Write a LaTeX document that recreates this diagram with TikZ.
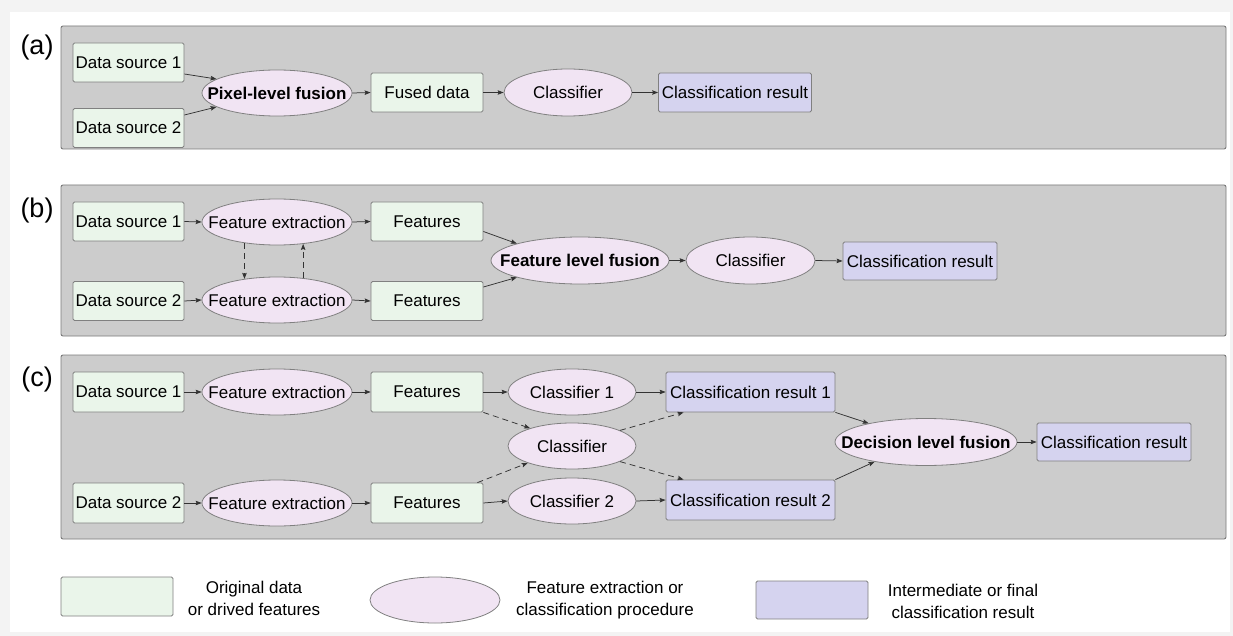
\documentclass[tikz,border=0pt]{standalone}
\usepackage{fontspec}
\setmainfont{Liberation Sans}
\usetikzlibrary{shapes.geometric,arrows.meta}
\definecolor{outerbg}{HTML}{F3F3F3}
\definecolor{panelbg}{HTML}{CCCCCC}
\definecolor{panelln}{HTML}{7A7A7A}
\definecolor{datafill}{HTML}{EAF5EA}
\definecolor{procfill}{HTML}{F1E4F3}
\definecolor{resfill}{HTML}{D5D3EF}
\definecolor{nodeln}{HTML}{808080}
\definecolor{arrln}{HTML}{333333}
\newcommand{\ztext}[1]{\makebox[0pt]{#1}}
\begin{document}
\begin{tikzpicture}[x=1pt,y=-1pt,
  every node/.style={font=\fontsize{17}{20}\selectfont, inner sep=0pt, text=black},
  panel/.style={fill=panelbg, draw=panelln, line width=0.9pt, rounded corners=2pt},
  databox/.style={rectangle, fill=datafill, draw=nodeln, line width=0.8pt, rounded corners=1.5pt, minimum width=111pt, minimum height=39pt},
  resbox/.style={rectangle, fill=resfill, draw=nodeln, line width=0.8pt, rounded corners=1.5pt, minimum width=153pt, minimum height=39pt},
  proc/.style={ellipse, fill=procfill, draw=nodeln, line width=0.8pt, minimum width=150pt, minimum height=46pt},
  arr/.style={draw=arrln, line width=0.75pt, -{Stealth[length=6pt,width=4.5pt,inset=1pt]}},
  darr/.style={arr, dash pattern=on 6pt off 4pt},
  plabel/.style={font=\fontsize{27}{30}\selectfont},
  legtext/.style={align=center, font=\fontsize{17}{22}\selectfont}
]
\useasboundingbox (0,0) rectangle (1233,636);
\fill[outerbg] (0,0) rectangle (1233,636);
\fill[white] (10,12) rectangle (1230,632);

% ---------- panel (a)
\draw[panel] (61,26) rectangle (1226,149);
\node[plabel] (la) at (37,48) {(a)};
\node[databox] (a1) at (128.5,62.5) {Data source 1};
\node[databox] (a2) at (128.5,128) {Data source 2};
\node[proc] (apf) at (277,93) {\ztext{\bfseries Pixel-level fusion}};
\node[databox, minimum width=112pt] (afd) at (427,92.5) {Fused data};
\node[proc, minimum width=128pt, minimum height=47pt] (acl) at (568,92.5) {\ztext{Classifier}};
\node[resbox] (acr) at (735,92.5) {Classification result};
\draw[arr] ([yshift=-11.5pt]a1.east) -- (apf.167);
\draw[arr] ([yshift=13pt]a2.east) -- (apf.193);
\draw[arr] (apf.east) -- (afd.west);
\draw[arr] (afd.east) -- (acl.west);
\draw[arr] (acl.east) -- (acr.west);

% ---------- panel (b)
\draw[panel] (61,185) rectangle (1226,336);
\node[plabel] (lb) at (37,211) {(b)};
\node[databox] (b1) at (128.5,221.5) {Data source 1};
\node[databox] (b2) at (128.5,301) {Data source 2};
\node[proc] (bfe1) at (277,222) {\ztext{Feature extraction}};
\node[proc] (bfe2) at (277,300) {\ztext{Feature extraction}};
\node[databox, minimum width=112pt] (bft1) at (427,221.5) {Features};
\node[databox, minimum width=112pt] (bft2) at (427,301) {Features};
\node[proc, minimum width=178pt, minimum height=47pt] (bfus) at (580,260.5) {\ztext{\bfseries Feature level fusion}};
\node[proc, minimum width=129pt, minimum height=47pt] (bcl) at (750.5,260.5) {\ztext{Classifier}};
\node[resbox, minimum width=154pt, minimum height=38pt] (bcr) at (920,261) {Classification result};
\draw[arr] (b1.east) -- (bfe1.west);
\draw[arr] (b2.east) -- (bfe2.west);
\draw[arr] (bfe1.east) -- (bft1.west);
\draw[arr] (bfe2.east) -- (bft2.west);
\draw[darr] (bfe1.213) -- (bfe2.147);
\draw[darr] (bfe2.40) -- (bfe1.-40);
\draw[arr] ([yshift=-10pt]bft1.east) -- (bfus.165);
\draw[arr] ([yshift=14pt]bft2.east) -- (bfus.195);
\draw[arr] (bfus.east) -- (bcl.west);
\draw[arr] (bcl.east) -- (bcr.west);

% ---------- panel (c)
\draw[panel] (61,355) rectangle (1226,539);
\node[plabel] (lc) at (37,380) {(c)};
\node[databox, minimum height=40pt] (c1) at (128.5,392) {Data source 1};
\node[databox, minimum height=40pt] (c2) at (128.5,503) {Data source 2};
\node[proc] (cfe1) at (277,392) {\ztext{Feature extraction}};
\node[proc] (cfe2) at (277,503) {\ztext{Feature extraction}};
\node[databox, minimum width=112pt, minimum height=40pt] (cft1) at (427,392) {Features};
\node[databox, minimum width=112pt, minimum height=40pt] (cft2) at (427,503) {Features};
\node[proc, minimum width=128pt] (ccl1) at (572,392) {\ztext{Classifier 1}};
\node[proc, minimum width=128pt] (ccl) at (572,446) {\ztext{Classifier}};
\node[proc, minimum width=128pt] (ccl2) at (572,501) {\ztext{Classifier 2}};
\node[resbox, minimum width=169pt, minimum height=40pt] (ccr1) at (750.5,392) {Classification result 1};
\node[resbox, minimum width=169pt, minimum height=40pt] (ccr2) at (750.5,500) {Classification result 2};
\node[proc, minimum width=182pt, minimum height=47pt] (cdf) at (926,442) {\ztext{\bfseries Decision level fusion}};
\node[resbox, minimum width=154pt, minimum height=38pt] (ccr) at (1114,442) {Classification result};
\draw[arr] (c1.east) -- (cfe1.west);
\draw[arr] (c2.east) -- (cfe2.west);
\draw[arr] (cfe1.east) -- (cft1.west);
\draw[arr] (cfe2.east) -- (cft2.west);
\draw[arr] (cft1.east) -- (ccl1.west);
\draw[arr] (cft2.east) -- (ccl2.west);
\draw[darr] (cft1.south east) -- (ccl.157);
\draw[darr] ([xshift=-6pt]cft2.north east) -- (ccl.201);
\draw[arr] (ccl1.east) -- (ccr1.west);
\draw[arr] (ccl2.east) -- (ccr2.west);
\draw[darr] (ccl.18) -- ([xshift=18pt]ccr1.south west);
\draw[darr] (ccl.-18) -- ([xshift=18pt]ccr2.north west);
\draw[arr] (ccr1.south east) -- (cdf.162);
\draw[arr] (ccr2.north east) -- (cdf.201);
\draw[arr] (cdf.east) -- (ccr.west);

% ---------- legend
\node[databox, minimum width=112pt] (k1) at (117,596.5) {};
\node[legtext] (t1) at (254,598) {Original data\\or drived features};
\node[proc, minimum width=130pt] (k2) at (435,600) {};
\node[legtext] (t2) at (605,600) {Feature extraction or\\classification procedure};
\node[resbox, minimum width=112pt, minimum height=38pt] (k3) at (812,600) {};
\node[legtext] (t3) at (963,601) {Intermediate or final\\classification result};
\end{tikzpicture}
\end{document}
